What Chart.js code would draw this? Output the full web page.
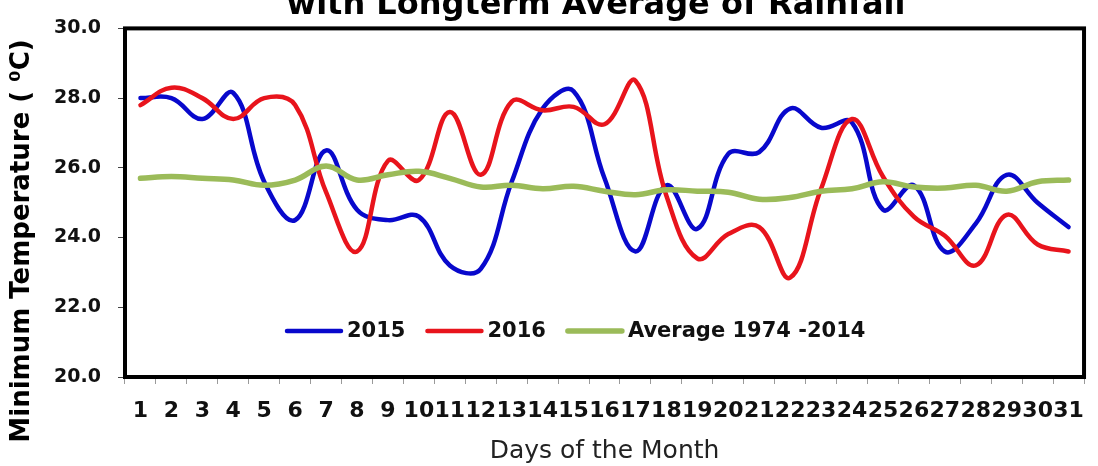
<!DOCTYPE html>
<html>
<head>
<meta charset="utf-8">
<script src="https://cdn.jsdelivr.net/npm/chart.js@4.4.1/dist/chart.umd.min.js"></script>
<style>
  html, body { margin: 0; padding: 0; background: #ffffff; }
  #wrap { position: relative; width: 1098px; height: 466px; }
  canvas { display: block; }
</style>
</head>
<body>
<div id="wrap"><canvas id="c" width="1098" height="466"></canvas></div>
<script>
// Daily minimum temperature (°C) for each day of the month
const days = ['1','2','3','4','5','6','7','8','9','10','11','12','13','14','15','16',
              '17','18','19','20','21','22','23','24','25','26','27','28','29','30','31'];

const min2015 = [28.0, 28.0, 27.4, 28.15, 25.6, 24.5, 26.5, 24.8, 24.5, 24.6, 23.2, 23.1,
                 25.6, 27.7, 28.2, 25.7, 23.6, 25.5, 24.25, 26.4, 26.45, 27.7, 27.15, 27.3,
                 24.8, 25.5, 23.6, 24.4, 25.8, 25.0, 24.3];

const min2016 = [27.8, 28.3, 28.0, 27.4, 28.0, 27.8, 25.3, 23.6, 26.2, 25.65, 27.6, 25.8,
                 27.9, 27.65, 27.75, 27.25, 28.5, 25.2, 23.4, 24.1, 24.3, 22.85, 25.4, 27.4,
                 25.75, 24.6, 24.05, 23.2, 24.65, 23.8, 23.6];

const avg1974to2014 = [25.7, 25.75, 25.7, 25.65, 25.5, 25.65, 26.05, 25.65, 25.8, 25.9, 25.7, 25.45,
                       25.5, 25.4, 25.47, 25.33, 25.23, 25.37, 25.33, 25.3, 25.1, 25.15, 25.33, 25.4,
                       25.6, 25.45, 25.42, 25.5, 25.33, 25.6, 25.65];

const seriesNames = ['2015', '2016', 'Average 1974 -2014'];
const seriesColors = ['#0808cc', '#e8141c', '#9bbb59'];
const yTickValues = [20, 22, 24, 26, 28, 30];

const chartTitle = 'with Longterm Average of Rainfall';
const yAxisTitle = 'Minimum Temperature ( \u2070C)';
const xAxisTitle = 'Days of the Month';

const FONT = 'DejaVu Sans';

// Frame, heading, rotated y title and in-plot legend
const decorations = {
  id: 'decorations',
  afterDatasetsDraw(chart) {
    const { ctx, chartArea: a } = chart;
    ctx.save();
    ctx.strokeStyle = '#000';
    ctx.lineWidth = 4;
    ctx.strokeRect(a.left, a.top, a.right - a.left, a.bottom - a.top);
    ctx.restore();
  },
  afterDraw(chart) {
    const { ctx } = chart;
    ctx.save();
    // heading (top part runs off the canvas)
    ctx.fillStyle = '#000';
    ctx.font = 'bold 32px "' + FONT + '"';
    ctx.textAlign = 'center';
    ctx.textBaseline = 'alphabetic';
    ctx.fillText(chartTitle, 596, 14);

    // y axis title
    ctx.save();
    ctx.translate(22, 241);
    ctx.rotate(-Math.PI / 2);
    ctx.font = 'bold 26px "' + FONT + '"';
    ctx.textAlign = 'center';
    ctx.textBaseline = 'middle';
    ctx.fillText(yAxisTitle, 0, 0);
    ctx.restore();

    // legend inside the plot
    ctx.font = 'bold 21px "' + FONT + '"';
    ctx.textAlign = 'left';
    ctx.textBaseline = 'middle';
    let x = 285;
    const y = 331;
    chart.data.datasets.forEach(ds => {
      ctx.strokeStyle = ds.borderColor;
      ctx.lineWidth = ds.borderWidth;
      ctx.lineCap = 'round';
      ctx.beginPath();
      ctx.moveTo(x + 2, y);
      ctx.lineTo(x + 56, y);
      ctx.stroke();
      x += 62;
      ctx.fillStyle = '#111';
      ctx.fillText(ds.label, x, y + 1);
      x += ctx.measureText(ds.label).width + 20;
    });
    ctx.restore();
  }
};

const lineStyle = {
  pointRadius: 0,
  pointHoverRadius: 0,
  fill: false,
  tension: 0.4,
  borderCapStyle: 'round',
  borderJoinStyle: 'round'
};

new Chart(document.getElementById('c'), {
  type: 'line',
  data: {
    labels: days,
    datasets: [
      Object.assign({ label: seriesNames[0], data: min2015, borderColor: seriesColors[0], borderWidth: 4.5, order: 2 }, lineStyle),
      Object.assign({ label: seriesNames[1], data: min2016, borderColor: seriesColors[1], borderWidth: 4.5, order: 1 }, lineStyle),
      Object.assign({ label: seriesNames[2], data: avg1974to2014, borderColor: seriesColors[2], borderWidth: 5.5, order: 0 }, lineStyle)
    ]
  },
  options: {
    responsive: false,
    animation: false,
    devicePixelRatio: 1,
    layout: { padding: { top: 25, right: 8, bottom: 0, left: 0 } },
    plugins: {
      legend: { display: false },
      title: { display: false },
      tooltip: { enabled: false }
    },
    scales: {
      x: {
        type: 'category',
        offset: true,
        border: { display: false },
        grid: { offset: true, drawOnChartArea: false, drawTicks: true, tickLength: 7, color: '#9a9a9a', lineWidth: 1 },
        ticks: {
          autoSkip: false, maxRotation: 0, minRotation: 0, padding: 14, color: '#111',
          font: { family: FONT, weight: 'bold', size: 22 }
        },
        title: {
          display: true, text: xAxisTitle, color: '#222',
          font: { family: FONT, size: 25 }, padding: { top: 0, bottom: 0 }
        },
        afterFit(scale) { scale.height = 89; }
      },
      y: {
        min: 20, max: 30,
        border: { display: false },
        grid: { drawOnChartArea: false, drawTicks: true, tickLength: 7, color: '#444', lineWidth: 1 },
        afterBuildTicks(scale) { scale.ticks = yTickValues.map(v => ({ value: v })); },
        ticks: {
          padding: 17, color: '#111',
          font: { family: FONT, weight: 'bold', size: 19 },
          callback: v => Number(v).toFixed(1)
        },
        afterFit(scale) { scale.width = 125; }
      }
    }
  },
  plugins: [decorations]
});
</script>
</body>
</html>
